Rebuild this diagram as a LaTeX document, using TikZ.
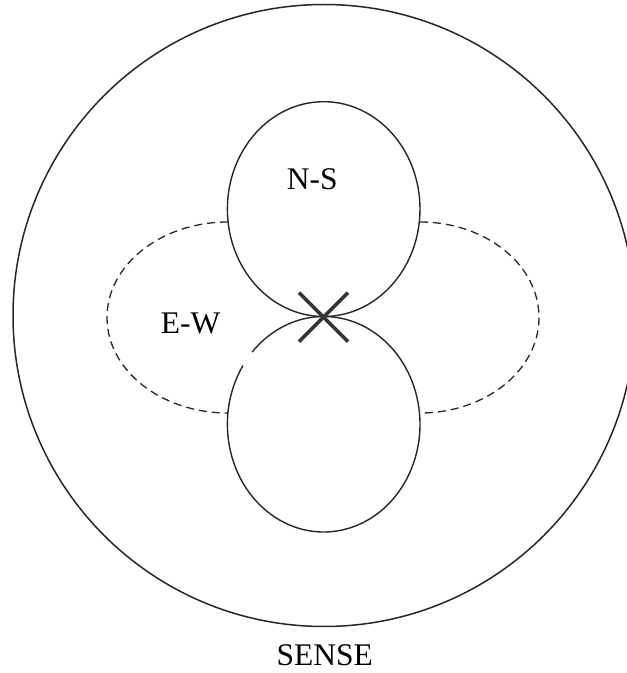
\documentclass[tikz,border=0pt]{standalone}
\usepackage{fontspec}
\setmainfont{Liberation Serif}
\begin{document}
\begin{tikzpicture}[x=1pt,y=1pt,
  lobe/.style={draw=black!85,line width=1.4pt},
  ewlobe/.style={draw=black!85,line width=1.3pt,dash pattern=on 8pt off 5pt},
  rim/.style={draw=black!85,line width=1.5pt},
  cross/.style={draw=black!80,line width=3.6pt},
  lbl/.style={inner sep=0pt,anchor=base,font=\fontsize{31.5}{38}\selectfont}]
\useasboundingbox (0,0) rectangle (627,673);
\coordinate (O) at (324,357.5);
\coordinate (NC) at (323.7,463.9);
\coordinate (SC) at (323.7,248.75);
\coordinate (WC) at (228,355.5);
\coordinate (EC) at (420,355.5);
\coordinate (X) at (323.5,355.8);
% outer sense circle
\draw[rim] (O) circle[radius=311];
% N-S lobes
\draw[lobe] (NC) ellipse[x radius=96.3,y radius=107.4];
\draw[lobe] (SC) ++(147:96.3 and 107.75) arc[start angle=147,end angle=498,x radius=96.3,y radius=107.75];
% E-W lobes (dashed)
\draw[ewlobe] (WC) ++(90:121 and 95.5) arc[start angle=90,end angle=270,x radius=121,y radius=95.5];
\draw[ewlobe] (EC) ++(90:119 and 95.5) arc[start angle=90,end angle=-90,x radius=119,y radius=95.5];
% cross at antenna
\draw[cross] ([shift={(-24.5,24.5)}]X) -- ([shift={(24.5,-24.5)}]X);
\draw[cross] ([shift={(24.5,24.5)}]X) -- ([shift={(-24.5,-24.5)}]X);
% labels
\node[lbl] (ns) at (312.2,483.7) {N-S};
\node[lbl] (ew) at (190.5,339.7) {E-W};
\node[lbl] (sense) at (324.7,7) {SENSE};
\end{tikzpicture}
\end{document}
